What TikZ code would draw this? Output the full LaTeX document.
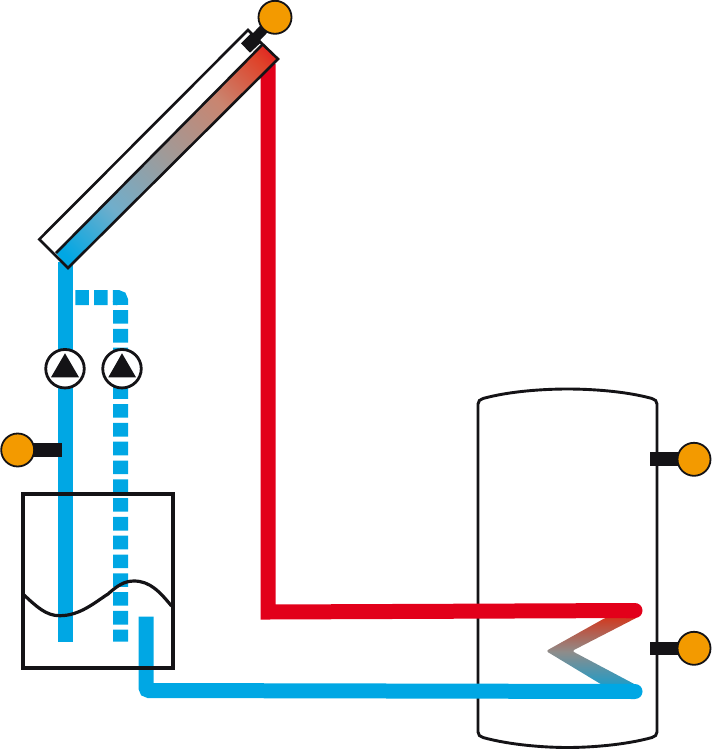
\documentclass[tikz,border=0pt]{standalone}
\usetikzlibrary{calc}
\definecolor{pipeblue}{HTML}{00A7E4}
\definecolor{pipered}{HTML}{E2001A}
\definecolor{midgrey}{HTML}{A09A98}
\definecolor{warmgrey}{HTML}{C98570}
\definecolor{warmred}{HTML}{DF4229}
\definecolor{coolblue}{HTML}{70AECB}
\definecolor{coilgrey}{HTML}{8F8C8A}
\definecolor{coiltop}{HTML}{D2391F}
\definecolor{coilbottom}{HTML}{1E9CC8}
\definecolor{sensororange}{HTML}{F39A00}
\definecolor{inkblack}{HTML}{141316}
\pgfdeclarehorizontalshading{stripshade}{100bp}{color(0bp)=(pipeblue); color(18bp)=(pipeblue); color(33bp)=(coolblue); color(50bp)=(midgrey); color(67bp)=(warmgrey); color(80bp)=(warmred); color(88bp)=(pipered); color(100bp)=(pipered)}
\tikzset{
  pipe/.style={line width=15pt,line cap=butt,line join=miter},
  outline/.style={draw=inkblack,line width=2.6pt,line join=miter},
  bulb/.style={circle,draw=inkblack,line width=1.8pt,fill=sensororange,minimum size=33pt,inner sep=0pt},
  stem/.style={fill=inkblack,draw=none},
  pumpring/.style={circle,draw=inkblack,line width=2.8pt,fill=white,minimum size=38.5pt,inner sep=0pt},
  pumptri/.style={fill=inkblack,draw=none}
}
\begin{document}
\begin{tikzpicture}[x=1pt,y=-1pt]
\useasboundingbox (0,0) rectangle (712,750);
% key points
\coordinate (redtop) at (268,64);
\coordinate (redcorner) at (268,612);
\coordinate (redend) at (635,610.5);
\coordinate (bluetop) at (65.5,262);
\coordinate (blueend) at (65.5,641.7);
\coordinate (dashstart) at (75.3,297.5);
\coordinate (dashcorner) at (120.5,297.5);
\coordinate (dashend) at (120.5,641.7);
\coordinate (rettop) at (146,616.7);
\coordinate (retcorner) at (146,690.5);
\coordinate (retend) at (635,691.5);
% tank
\draw[outline,line width=2.9pt] (478,404) .. controls (478,401) and (480,399.5) .. (483,398.5)
  .. controls (510,391) and (545,389) .. (567.5,389)
  .. controls (590,389) and (625,391) .. (652,398.5)
  .. controls (655,399.5) and (657,401) .. (657,404)
  -- (657,732)
  .. controls (657,735) and (655,736.5) .. (652,737.5)
  .. controls (625,745) and (590,747.5) .. (567.5,747.5)
  .. controls (545,747.5) and (510,745) .. (483,737.5)
  .. controls (480,736.5) and (478,735) .. (478,732) -- cycle;
% pipes
\draw[pipe,pipeblue] (bluetop) -- (blueend);
\draw[pipe,pipeblue,dash pattern=on 13.6pt off 5.2pt,rounded corners=3pt] (dashstart) -- (dashcorner) -- (dashend);
\shade[top color=coiltop,bottom color=coilbottom,middle color=coilgrey,rounded corners=2.5pt]
  (606,617.5) -- (546,651) -- (604,686) -- (638,686) -- (572,651) -- (638,617) -- cycle;
\draw[pipe,pipered,line cap=round] (redend) -- ($(redend)+(-8,0.2)$);
\draw[pipe,pipered] (redtop) -- (redcorner) -- (redend);
\draw[pipe,pipeblue,line cap=round] (retend) -- ($(retend)+(-8,0)$);
\draw[pipe,pipeblue,rounded corners=3pt] (rettop) -- (retcorner) -- (retend);
% storage vessel and liquid surface
\draw[draw=inkblack,line width=4pt,line join=miter] (22.7,493.7) rectangle (172.7,667.7);
\draw[inkblack,line width=3.2pt] (24,595) .. controls (36,606) and (46,616) .. (60,615.7)
  .. controls (80,615.5) and (94,603) .. (108,594)
  .. controls (117,586) and (124,581) .. (134,581)
  .. controls (150,581) and (160,592) .. (171.5,606);
% collector
\shade[shading=stripshade,shading angle=45] (56,253) -- (262.7,44.3) -- (278,59) -- (68,268) -- cycle;
\draw[outline] (39.3,239.3) -- (248,30) -- (253,35) -- (262.7,44.3) -- (278,59) -- (68,268) -- cycle;
\draw[outline] (56,253) -- (262.7,44.3);
% pumps
\node[pumpring] (pumpa) at (65,368.7) {};
\node[pumpring] (pumpb) at (122,368.7) {};
\fill[pumptri] (65,353.3) -- (79,377.3) -- (51,377.3) -- cycle;
\fill[pumptri] (122,353.3) -- (136,377.3) -- (108.3,377.3) -- cycle;
% sensors
\node[stem,minimum width=30pt,minimum height=13.4pt,inner sep=0pt,anchor=east] (stemleft) at (61.7,450) {};
\node[bulb] (bulbleft) at (17.7,450) {};
\node[stem,minimum width=30pt,minimum height=13.4pt,inner sep=0pt,anchor=west] (stemupper) at (650,459) {};
\node[bulb] (bulbupper) at (694,459.3) {};
\node[stem,minimum width=30pt,minimum height=13.4pt,inner sep=0pt,anchor=west] (stemlower) at (650,648.3) {};
\node[bulb] (bulblower) at (694,648.3) {};
\coordinate (stemroot) at (250.5,43);
\fill[stem] (241,43.3) -- (251,33.3) -- (260.7,42.7) -- (250,52.7) -- cycle;
\draw[inkblack,line width=10pt] (stemroot) -- (275,17.3);
\node[bulb] (bulbtop) at (275,17.3) {};
\end{tikzpicture}
\end{document}
